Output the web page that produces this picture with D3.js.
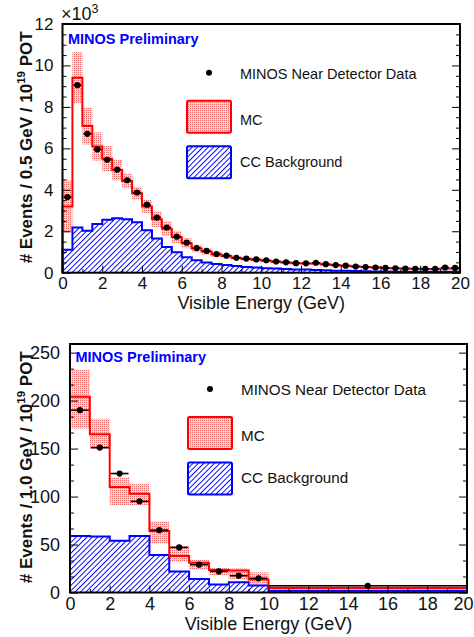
<!DOCTYPE html>
<html><head><meta charset="utf-8">
<script src="https://cdn.jsdelivr.net/npm/d3@7"></script>
<style>body{margin:0;background:#fff} text{font-family:"Liberation Sans",Arial,Helvetica,sans-serif}</style>
</head><body><script>
// ---------- DATA: top panel (0.5 GeV bins, values in 10^3 events) ----------
const topEdges = [0,0.5,1,1.5,2,2.5,3,3.5,4,4.5,5,5.5,6,6.5,7,7.5,8,8.5,9,9.5,10,10.5,11,11.5,12,12.5,13,13.5,14,14.5,15,15.5,16,16.5,17,17.5,18,18.5,19,19.5,20];
const topData = [3.65,9.05,6.70,5.95,5.45,4.97,4.46,3.87,3.28,2.66,2.18,1.74,1.45,1.19,1.05,0.90,0.82,0.72,0.68,0.64,0.60,0.54,0.50,0.46,0.45,0.48,0.41,0.37,0.34,0.30,0.27,0.25,0.23,0.21,0.20,0.19,0.19,0.19,0.25,0.23];
const topMC = [3.20,9.41,7.08,6.09,5.50,4.96,4.43,3.83,3.20,2.58,2.12,1.72,1.42,1.17,1.02,0.88,0.80,0.71,0.66,0.62,0.58,0.53,0.49,0.46,0.44,0.44,0.40,0.36,0.33,0.30,0.27,0.25,0.23,0.21,0.20,0.19,0.18,0.18,0.20,0.20];
const topMCErr = [1.25,1.23,0.89,0.68,0.62,0.50,0.35,0.31,0.32,0.38,0.35,0.30,0.24,0.18,0.15,0.12,0.09,0.08,0.07,0.07,0.06,0.06,0.06,0.05,0.05,0.05,0.05,0.04,0.04,0.04,0.04,0.03,0.03,0.03,0.03,0.03,0.03,0.03,0.03,0.03];
const topCC = [1.11,2.18,2.02,2.35,2.55,2.63,2.58,2.44,2.05,1.65,1.24,0.99,0.75,0.60,0.49,0.42,0.37,0.32,0.28,0.25,0.22,0.20,0.18,0.16,0.15,0.13,0.12,0.10,0.09,0.08,0.07,0.06,0.06,0.05,0.05,0.04,0.04,0.04,0.04,0.04];
const topYTicks = [0,2,4,6,8,10,12];
const topYTickLabels = ["0","2","4","6","8","10","12"];
const topYMinor = [0.5,1,1.5,2.5,3,3.5,4.5,5,5.5,6.5,7,7.5,8.5,9,9.5,10.5,11,11.5];

// ---------- DATA: bottom panel (1 GeV bins, last bin 10-20 GeV) ----------
const botEdges = [0,1,2,3,4,5,6,7,8,9,10,20];
const botData = [190,151,124,95,65,47,29,22,17.5,14.8,7.0];
const botMC = [204,165,110,103,64,38,31,23.5,23,13.5,4.6];
const botMCHi = [232,181,120,113,74,48,34,25.5,25,21,6.5];
const botMCLo = [171,150,91,91,51,32,24,18,14,8.5,3.2];
const botCC = [59,58.3,54,59,39,22,14,8.4,10.8,7.2,1.8];
const botYTicks = [0,50,100,150,200,250];
const botYTickLabels = ["0","50","100","150","200","250"];
const botYMinor = [16.7,33.3,66.7,83.3,116.7,133.3,166.7,183.3,216.7,233.3];

// ---------- shared x axis ticks ----------
const xTicks = [0,2,4,6,8,10,12,14,16,18,20];
const xTickLabels = ["0","2","4","6","8","10","12","14","16","18","20"];
const xMinor = [1,3,5,7,9,11,13,15,17,19];

const legendLabels = ["MINOS Near Detector Data","MC","CC Background"];

const svg = d3.select("body").append("svg").attr("width",474).attr("height",637);
const defs = svg.append("defs");
const hp = defs.append("pattern").attr("id","hatch").attr("patternUnits","userSpaceOnUse")
  .attr("width",3.8).attr("height",3.8).attr("patternTransform","rotate(45)");
hp.append("line").attr("x1",0.5).attr("y1",0).attr("x2",0.5).attr("y2",3.8).attr("stroke","#0000ff").attr("stroke-width",0.95);
const mp = defs.append("pattern").attr("id","mcfill").attr("patternUnits","userSpaceOnUse").attr("width",2).attr("height",2);
mp.append("rect").attr("width",2).attr("height",2).attr("fill","#fcd6d6");
mp.append("rect").attr("width",1).attr("height",1).attr("fill","#ec6a6a");

function panel(o){
  const x = d3.scaleLinear().domain([0,20]).range([o.left,o.right]);
  const y = d3.scaleLinear().domain([0,o.ymax]).range([o.bottom,o.top]);
  const g = svg.append("g");
  const n = o.cc.length;
  const steps = vals => { const p=[[o.edges[0],0]]; vals.forEach((v,i)=>{p.push([o.edges[i],v]);p.push([o.edges[i+1],v]);}); p.push([o.edges[n],0]); return p; };
  const line = d3.line().x(d=>x(d[0])).y(d=>y(d[1]));
  g.append("path").attr("d",line(steps(o.cc))+"Z").attr("fill","url(#hatch)");
  g.selectAll("rect.band").data(o.mc).join("rect").attr("class","band")
    .attr("x",(d,i)=>x(o.edges[i])).attr("width",(d,i)=>x(o.edges[i+1])-x(o.edges[i]))
    .attr("y",(d,i)=>y(o.hi[i])).attr("height",(d,i)=>y(o.lo[i])-y(o.hi[i]))
    .attr("fill","url(#mcfill)");
  g.append("path").attr("d",line(steps(o.cc))).attr("fill","none").attr("stroke","#0000ff").attr("stroke-width",2);
  g.append("path").attr("d",line(steps(o.mc))).attr("fill","none").attr("stroke","#ff0000").attr("stroke-width",2);
  g.selectAll("line.xerr").data(o.data).join("line").attr("class","xerr")
    .attr("x1",(d,i)=>x(o.edges[i])+1).attr("x2",(d,i)=>x(o.edges[i+1])-1)
    .attr("y1",d=>y(d)).attr("y2",d=>y(d)).attr("stroke","#000").attr("stroke-width",1.6);
  g.selectAll("circle.pt").data(o.data).join("circle").attr("class","pt")
    .attr("cx",(d,i)=>x((o.edges[i]+o.edges[i+1])/2)).attr("cy",d=>y(d)).attr("r",3.1).attr("fill","#000");
  const fix = s => { s.select(".domain").remove(); s.selectAll("line").attr("stroke","#000"); s.selectAll("text").attr("font-size",o.tickFont).attr("fill","#111"); };
  const xa = g.append("g").attr("transform",`translate(0,${o.bottom})`)
    .call(d3.axisBottom(x).tickValues(xTicks).tickSize(-7).tickPadding(o.xPad).tickFormat((d,i)=>xTickLabels[i])).call(fix);
  if (o.lastShift) xa.selectAll(".tick").filter(d=>d===20).select("text").attr("dx",o.lastShift);
  g.append("g").attr("transform",`translate(0,${o.bottom})`)
    .call(d3.axisBottom(x).tickValues(xMinor).tickSize(-3.5).tickFormat("")).call(fix);
  g.append("g").attr("transform",`translate(${o.left},0)`)
    .call(d3.axisLeft(y).tickValues(o.yTicks).tickSize(-8).tickPadding(o.yPad).tickFormat((d,i)=>o.yLabels[i])).call(fix);
  g.append("g").attr("transform",`translate(${o.left},0)`)
    .call(d3.axisLeft(y).tickValues(o.yMinor).tickSize(-4).tickFormat("")).call(fix);
  g.append("g").attr("transform",`translate(${o.right},0)`)
    .call(d3.axisRight(y).tickValues(o.yTicks).tickSize(-8).tickFormat("")).call(fix);
  g.append("g").attr("transform",`translate(${o.right},0)`)
    .call(d3.axisRight(y).tickValues(o.yMinor).tickSize(-4).tickFormat("")).call(fix);
  g.append("rect").attr("x",o.left).attr("y",o.top).attr("width",o.right-o.left).attr("height",o.bottom-o.top)
    .attr("fill","none").attr("stroke","#000").attr("stroke-width",2);
  g.append("text").attr("x",(o.left+o.right)/2).attr("y",o.xTitleY).attr("text-anchor","middle")
    .attr("font-size",18).attr("fill","#111").text("Visible Energy (GeV)");
  const yt = g.append("text").attr("transform",`translate(32,${(o.top+o.bottom)/2-1}) rotate(-90)`)
    .attr("text-anchor","middle").attr("font-size",17).attr("font-weight","bold").attr("fill","#111");
  yt.append("tspan").text(`# Events / ${o.binLabel} GeV / 10`);
  yt.append("tspan").attr("dy",-7).attr("font-size",11.5).text("19");
  yt.append("tspan").attr("dy",7).text(" POT");
  g.append("text").attr("x",o.left+5.5).attr("y",o.prelimY).attr("font-size",14.5).attr("font-weight","bold")
    .attr("fill","#0000ff").text("MINOS Preliminary");
  const L = o.leg;
  g.append("circle").attr("cx",L.x+22).attr("cy",L.dotY).attr("r",3).attr("fill","#000");
  g.append("rect").attr("x",L.x).attr("y",L.dotY+28).attr("width",44).attr("height",32).attr("rx",1.5)
    .attr("fill","url(#mcfill)").attr("stroke","#ff0000").attr("stroke-width",2);
  g.append("rect").attr("x",L.x).attr("y",L.dotY+73.5).attr("width",44).attr("height",32).attr("rx",1.5)
    .attr("fill","url(#hatch)").attr("stroke","#0000ff").attr("stroke-width",2);
  [6,52.3,94.3].forEach((dy,i)=>{
    g.append("text").attr("x",L.x+53).attr("y",L.dotY+dy).attr("font-size",L.font).attr("fill","#111").text(legendLabels[i]);
  });
}

panel({left:62.5,right:460,top:24,bottom:272.7,ymax:12,edges:topEdges,data:topData,mc:topMC,
  hi:topMC.map((v,i)=>v+topMCErr[i]),lo:topMC.map((v,i)=>v-topMCErr[i]),cc:topCC,
  yTicks:topYTicks,yLabels:topYTickLabels,yMinor:topYMinor,tickFont:17,xPad:4,yPad:9,
  xTitleY:308.5,binLabel:"0.5",prelimY:44,leg:{x:187,dotY:72.7,font:14.5}});
panel({left:70,right:467,top:344,bottom:592.5,ymax:259,edges:botEdges,data:botData,mc:botMC,
  hi:botMCHi,lo:botMCLo,cc:botCC,
  yTicks:botYTicks,yLabels:botYTickLabels,yMinor:botYMinor,tickFont:18,xPad:5,yPad:10,lastShift:-4,
  xTitleY:629.5,binLabel:"1.0",prelimY:362,leg:{x:188,dotY:389,font:15.2}});

const mult = svg.append("text").attr("x",61).attr("y",19.5).attr("font-size",18).attr("fill","#111");
mult.append("tspan").text("\u00d710");
mult.append("tspan").attr("dy",-7).attr("font-size",12.5).text("3");
</script></body></html>
